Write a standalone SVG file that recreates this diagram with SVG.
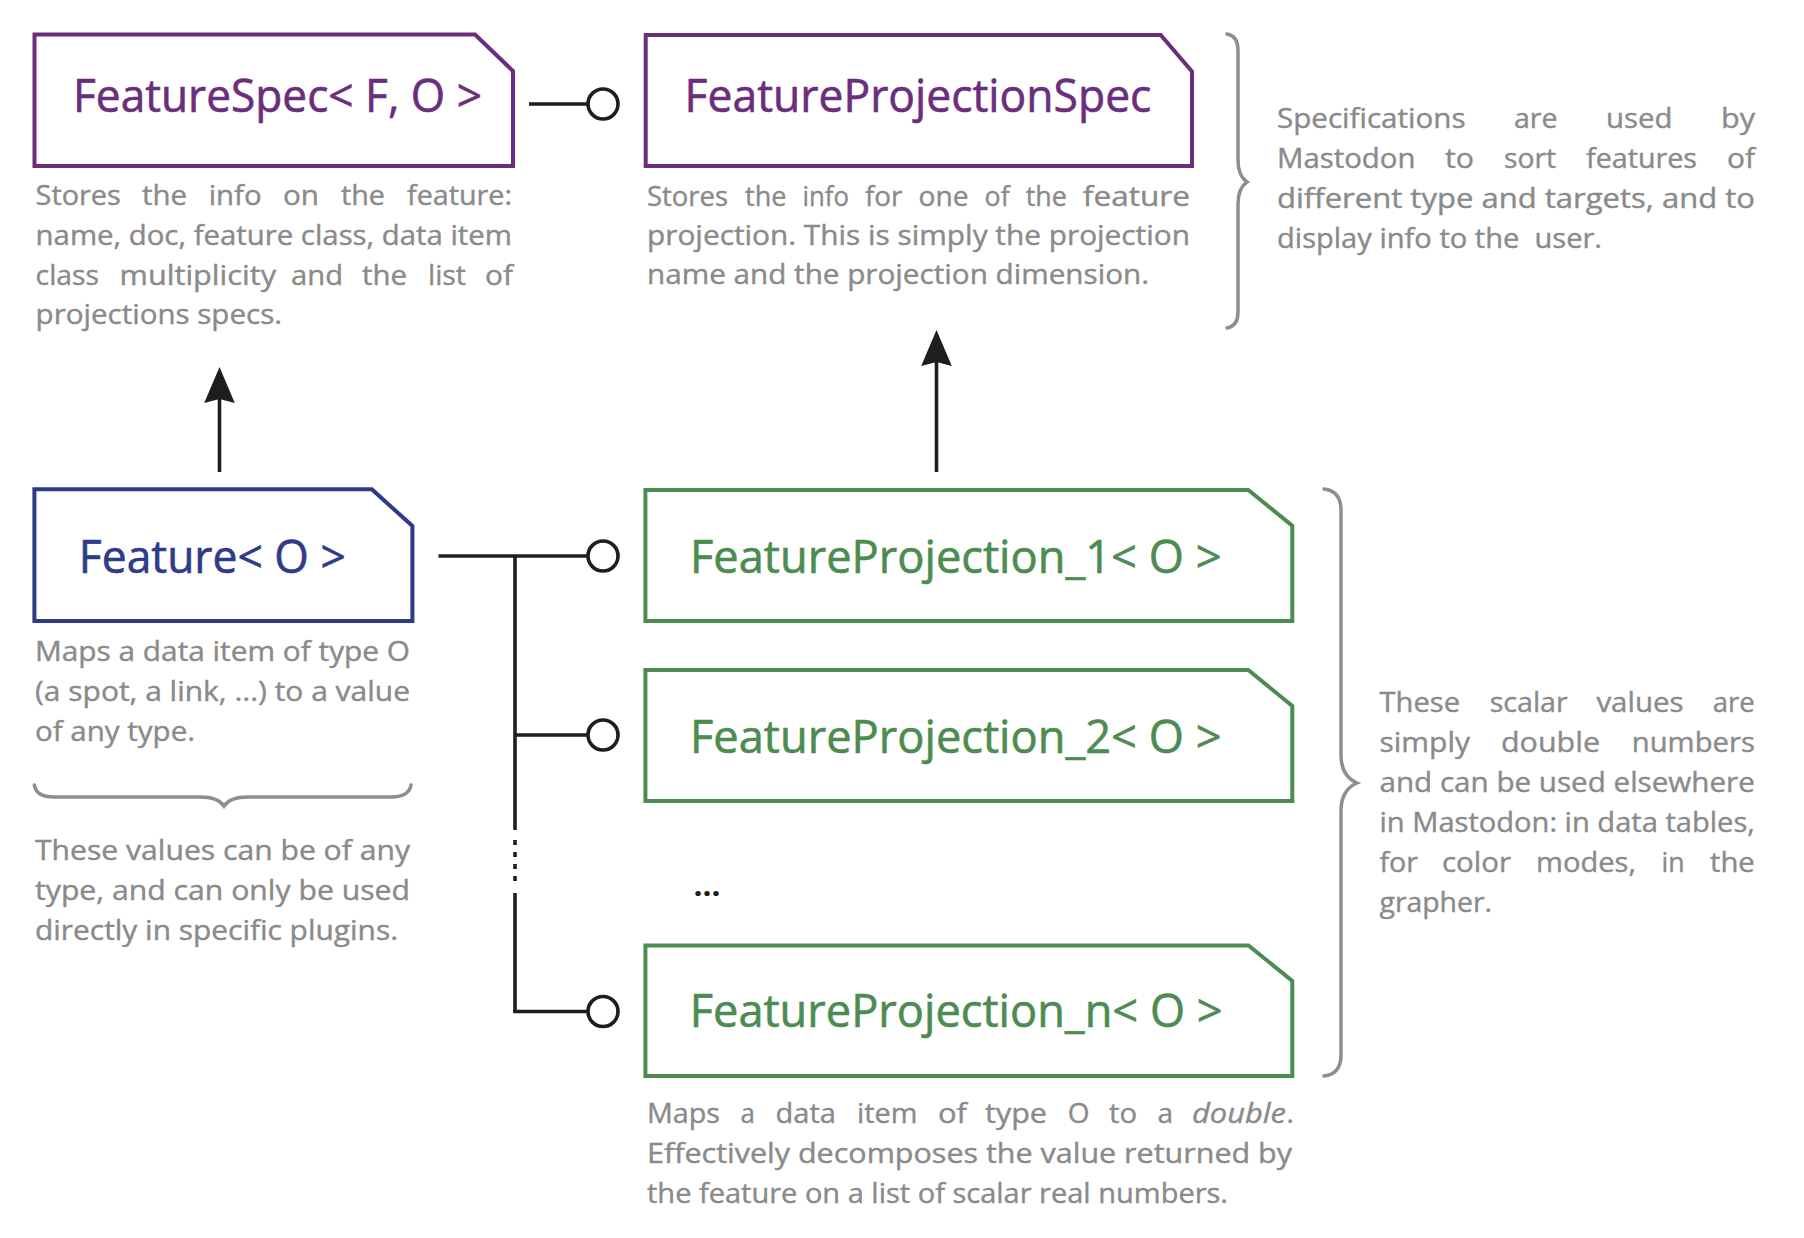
<svg xmlns="http://www.w3.org/2000/svg" width="1804" height="1238" viewBox="0 0 1804 1238">
<style>
.box{fill:#ffffff;stroke-width:4;stroke-linejoin:miter}
.spec{stroke:#6b2e7c}
.feat{stroke:#2e3b87}
.proj{stroke:#4d8c50}
.title{font-family:"Open Sans","Noto Sans","Liberation Sans",sans-serif;font-size:45px;stroke-width:0.6}
.tspec{fill:#6b2e7c;stroke:#6b2e7c}
.tfeat{fill:#2e3b87;stroke:#2e3b87}
.tproj{fill:#4d8c50;stroke:#4d8c50}
.body{font-family:"Open Sans","Noto Sans","Liberation Sans",sans-serif;font-size:28px;fill:#8a8a8a;stroke:#8a8a8a;stroke-width:0.4}
.wire{fill:none;stroke:#1e1e1e;stroke-width:3.6}
.lolli{fill:#ffffff;stroke:#1e1e1e;stroke-width:3.6}
.brace{fill:none;stroke:#8e8e8e;stroke-width:3.5;stroke-linecap:round}
</style>
<defs>
<marker id="arrow" viewBox="0 0 36 32" refX="4" refY="16" markerWidth="36" markerHeight="32" markerUnits="userSpaceOnUse" orient="auto">
<path d="M0,0.7 L36,16 L0,31.3 L4,16 Z" fill="#1e1e1e"/>
</marker>
</defs>
<rect width="1804" height="1238" fill="#ffffff"/>

<g id="connectors">
<line class="wire" x1="529" y1="104" x2="588" y2="104"/>
<circle class="lolli" cx="603" cy="104" r="15"/>
<line class="wire" x1="438.5" y1="556" x2="588" y2="556"/>
<circle class="lolli" cx="603" cy="556" r="15"/>
<line class="wire" x1="515" y1="556" x2="515" y2="830"/>
<line class="wire" x1="515" y1="840" x2="515" y2="882" stroke-dasharray="5 7"/>
<line class="wire" x1="515" y1="893" x2="515" y2="1011.5"/>
<line class="wire" x1="515" y1="735" x2="588" y2="735"/>
<circle class="lolli" cx="603" cy="735" r="15"/>
<line class="wire" x1="513.2" y1="1011.5" x2="588" y2="1011.5"/>
<circle class="lolli" cx="603" cy="1011.5" r="15"/>
<line class="wire" x1="219.5" y1="472" x2="219.5" y2="399" stroke-width="4" marker-end="url(#arrow)"/>
<line class="wire" x1="936.5" y1="472" x2="936.5" y2="362" stroke-width="4" marker-end="url(#arrow)"/>
</g>

<g id="featureSpec">
<path class="box spec" d="M34.5,34.5 H475 L513,71 V166 H34.5 Z"/>
<text class="title tspec" x="73" y="112" textLength="409" lengthAdjust="spacingAndGlyphs">FeatureSpec&lt; F, O &gt;</text>
<text class="body" y="205"><tspan x="35.6" textLength="85.2" lengthAdjust="spacingAndGlyphs">Stores</tspan> <tspan x="142" textLength="45" lengthAdjust="spacingAndGlyphs">the</tspan> <tspan x="208.7" textLength="52.9" lengthAdjust="spacingAndGlyphs">info</tspan> <tspan x="283" textLength="36" lengthAdjust="spacingAndGlyphs">on</tspan> <tspan x="341" textLength="44" lengthAdjust="spacingAndGlyphs">the</tspan> <tspan x="407" textLength="105" lengthAdjust="spacingAndGlyphs">feature:</tspan></text>
<text class="body" x="35.6" y="245" textLength="476.4" lengthAdjust="spacingAndGlyphs">name, doc, feature class, data item</text>
<text class="body" y="285"><tspan x="35.6" textLength="63.4" lengthAdjust="spacingAndGlyphs">class</tspan> <tspan x="119.6" textLength="156.4" lengthAdjust="spacingAndGlyphs">multiplicity</tspan> <tspan x="291" textLength="52" lengthAdjust="spacingAndGlyphs">and</tspan> <tspan x="362" textLength="45" lengthAdjust="spacingAndGlyphs">the</tspan> <tspan x="428" textLength="38" lengthAdjust="spacingAndGlyphs">list</tspan> <tspan x="485" textLength="28" lengthAdjust="spacingAndGlyphs">of</tspan></text>
<text class="body" x="35.6" y="323.5" textLength="246.4" lengthAdjust="spacingAndGlyphs">projections specs.</text>
</g>

<g id="featureProjectionSpec">
<path class="box spec" d="M645.7,35 H1160.7 L1192,71.5 V166 H645.7 Z"/>
<text class="title tspec" x="684.6" y="112" textLength="466.8" lengthAdjust="spacingAndGlyphs">FeatureProjectionSpec</text>
<text class="body" y="205.5"><tspan x="647" textLength="81" lengthAdjust="spacingAndGlyphs">Stores</tspan> <tspan x="745" textLength="41.4" lengthAdjust="spacingAndGlyphs">the</tspan> <tspan x="802.5" textLength="46.5" lengthAdjust="spacingAndGlyphs">info</tspan> <tspan x="865" textLength="37.5" lengthAdjust="spacingAndGlyphs">for</tspan> <tspan x="918.5" textLength="50" lengthAdjust="spacingAndGlyphs">one</tspan> <tspan x="984.6" textLength="25" lengthAdjust="spacingAndGlyphs">of</tspan> <tspan x="1025.7" textLength="41" lengthAdjust="spacingAndGlyphs">the</tspan> <tspan x="1082.8" textLength="107.2" lengthAdjust="spacingAndGlyphs">feature</tspan></text>
<text class="body" x="647" y="245" textLength="543" lengthAdjust="spacingAndGlyphs">projection. This is simply the projection</text>
<text class="body" x="647" y="284" textLength="502" lengthAdjust="spacingAndGlyphs">name and the projection dimension.</text>
</g>

<g id="specNote">
<path class="brace" d="M1227,34 Q1238,36 1238,50 L1238,160 Q1238,176 1247,182 Q1238,188 1238,204 L1238,312 Q1238,326 1227,328"/>
<text class="body" y="128"><tspan x="1277" textLength="188.5" lengthAdjust="spacingAndGlyphs">Specifications</tspan> <tspan x="1514" textLength="43.5" lengthAdjust="spacingAndGlyphs">are</tspan> <tspan x="1606" textLength="66.5" lengthAdjust="spacingAndGlyphs">used</tspan> <tspan x="1721" textLength="34" lengthAdjust="spacingAndGlyphs">by</tspan></text>
<text class="body" y="168"><tspan x="1277" textLength="138.5" lengthAdjust="spacingAndGlyphs">Mastodon</tspan> <tspan x="1445" textLength="29" lengthAdjust="spacingAndGlyphs">to</tspan> <tspan x="1504" textLength="52" lengthAdjust="spacingAndGlyphs">sort</tspan> <tspan x="1586" textLength="111" lengthAdjust="spacingAndGlyphs">features</tspan> <tspan x="1727" textLength="28" lengthAdjust="spacingAndGlyphs">of</tspan></text>
<text class="body" x="1277" y="208" textLength="478" lengthAdjust="spacingAndGlyphs">different type and targets, and to</text>
<text class="body" x="1277" y="248" textLength="325" lengthAdjust="spacingAndGlyphs" xml:space="preserve">display info to the  user.</text>
</g>

<g id="feature">
<path class="box feat" d="M34.4,489.3 H371.8 L412.4,526 V621 H34.4 Z"/>
<text class="title tfeat" x="78.8" y="572.7" textLength="267" lengthAdjust="spacingAndGlyphs">Feature&lt; O &gt;</text>
<text class="body" x="35" y="661" textLength="375" lengthAdjust="spacingAndGlyphs">Maps a data item of type O</text>
<text class="body" x="35" y="701" textLength="375" lengthAdjust="spacingAndGlyphs">(a spot, a link, ...) to a value</text>
<text class="body" x="35" y="741" textLength="160" lengthAdjust="spacingAndGlyphs">of any type.</text>
</g>

<g id="featureNote">
<path class="brace" d="M34.4,785 Q36,797 54,797 L200,797 Q218,797 224,806 Q230,797 248,797 L391,797 Q409,797 411,785"/>
<text class="body" x="35" y="860" textLength="375" lengthAdjust="spacingAndGlyphs">These values can be of any</text>
<text class="body" x="35" y="900" textLength="375" lengthAdjust="spacingAndGlyphs">type, and can only be used</text>
<text class="body" x="35" y="940" textLength="363" lengthAdjust="spacingAndGlyphs">directly in specific plugins.</text>
</g>

<g id="featureProjection1">
<path class="box proj" d="M645.4,490 H1248.3 L1292.3,525.7 V621 H645.4 Z"/>
<text class="title tproj" x="690" y="572.5" textLength="531.5" lengthAdjust="spacingAndGlyphs">FeatureProjection_1&lt; O &gt;</text>
</g>

<g id="featureProjection2">
<path class="box proj" d="M645.4,670 H1248.3 L1292.3,706 V801 H645.4 Z"/>
<text class="title tproj" x="690" y="752.5" textLength="531.5" lengthAdjust="spacingAndGlyphs">FeatureProjection_2&lt; O &gt;</text>
</g>

<g id="ellipsis">
<text x="693.5" y="896" font-family="Open Sans, Noto Sans, sans-serif" font-size="30" font-weight="bold" fill="#1e1e1e" textLength="27" lengthAdjust="spacingAndGlyphs">...</text>
</g>

<g id="featureProjectionN">
<path class="box proj" d="M645.4,945.5 H1248.5 L1292.3,981 V1076 H645.4 Z"/>
<text class="title tproj" x="689.7" y="1027" textLength="533" lengthAdjust="spacingAndGlyphs">FeatureProjection_n&lt; O &gt;</text>
<text class="body" y="1123.3"><tspan x="647" textLength="73" lengthAdjust="spacingAndGlyphs">Maps</tspan> <tspan x="740.6" textLength="14.4" lengthAdjust="spacingAndGlyphs">a</tspan> <tspan x="775.5" textLength="60.5" lengthAdjust="spacingAndGlyphs">data</tspan> <tspan x="857" textLength="60.5" lengthAdjust="spacingAndGlyphs">item</tspan> <tspan x="938" textLength="29" lengthAdjust="spacingAndGlyphs">of</tspan> <tspan x="985" textLength="62" lengthAdjust="spacingAndGlyphs">type</tspan> <tspan x="1067.7" textLength="21.8" lengthAdjust="spacingAndGlyphs">O</tspan> <tspan x="1109" textLength="28" lengthAdjust="spacingAndGlyphs">to</tspan> <tspan x="1157.4" textLength="15.6" lengthAdjust="spacingAndGlyphs">a</tspan> <tspan x="1192" textLength="94" lengthAdjust="spacingAndGlyphs" font-style="italic">double</tspan><tspan x="1286.5">.</tspan></text>
<text class="body" x="647" y="1163.3" textLength="645" lengthAdjust="spacingAndGlyphs">Effectively decomposes the value returned by</text>
<text class="body" x="647" y="1203.3" textLength="581" lengthAdjust="spacingAndGlyphs">the feature on a list of scalar real numbers.</text>
</g>

<g id="projectionNote">
<path class="brace" d="M1324,489 Q1341,491 1341,510 L1341,755 Q1341,776 1357,783 Q1341,790 1341,811 L1341,1055 Q1341,1074 1324,1076"/>
<text class="body" y="712"><tspan x="1379.5" textLength="80.5" lengthAdjust="spacingAndGlyphs">These</tspan> <tspan x="1489.7" textLength="78" lengthAdjust="spacingAndGlyphs">scalar</tspan> <tspan x="1596.4" textLength="87.2" lengthAdjust="spacingAndGlyphs">values</tspan> <tspan x="1712.8" textLength="42" lengthAdjust="spacingAndGlyphs">are</tspan></text>
<text class="body" y="752"><tspan x="1379.5" textLength="90.5" lengthAdjust="spacingAndGlyphs">simply</tspan> <tspan x="1501" textLength="99" lengthAdjust="spacingAndGlyphs">double</tspan> <tspan x="1631.8" textLength="123" lengthAdjust="spacingAndGlyphs">numbers</tspan></text>
<text class="body" x="1379.5" y="792" textLength="375.3" lengthAdjust="spacingAndGlyphs">and can be used elsewhere</text>
<text class="body" x="1379.5" y="832" textLength="375.3" lengthAdjust="spacingAndGlyphs">in Mastodon: in data tables,</text>
<text class="body" y="872"><tspan x="1379.5" textLength="38.5" lengthAdjust="spacingAndGlyphs">for</tspan> <tspan x="1442" textLength="69" lengthAdjust="spacingAndGlyphs">color</tspan> <tspan x="1536" textLength="100" lengthAdjust="spacingAndGlyphs">modes,</tspan> <tspan x="1661.5" textLength="23.1" lengthAdjust="spacingAndGlyphs">in</tspan> <tspan x="1710" textLength="44.8" lengthAdjust="spacingAndGlyphs">the</tspan></text>
<text class="body" x="1379.5" y="912" textLength="112.5" lengthAdjust="spacingAndGlyphs">grapher.</text>
</g>
</svg>
